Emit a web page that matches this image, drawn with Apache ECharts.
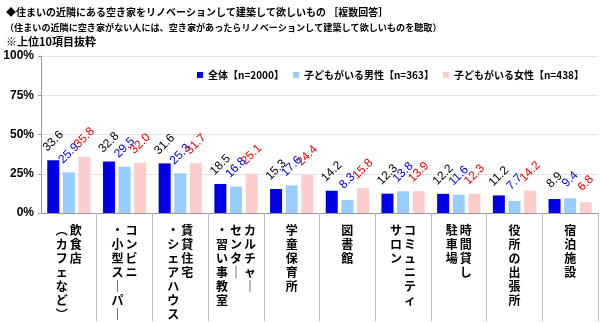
<!DOCTYPE html>
<html><head><meta charset="utf-8">
<script src="https://cdn.jsdelivr.net/npm/echarts@6/dist/echarts.min.js"></script>
<style>html,body{margin:0;padding:0;background:#fff}#c{width:600px;height:323px}</style>
</head><body><div id="c"></div>
<script>
// Category label columns (right column first, as read vertically)
const categoryColumns = [
  ['飲食店', '（カフェなど）'],
  ['コンビニ', '・小型スーパー'],
  ['賃貸住宅', '・シェアハウス'],
  ['カルチャー', 'センター', '・習い事教室'],
  ['学童保育所'],
  ['図書館'],
  ['コミュニティ', 'サロン'],
  ['時間貸し', '駐車場'],
  ['役所の出張所'],
  ['宿泊施設']
];
const categories = categoryColumns.map(c => c.join(''));
const seriesNames = ['全体【n=2000】', '子どもがいる男性【n=363】', '子どもがいる女性【n=438】'];
const allValues    = [33.6, 32.8, 31.6, 18.5, 15.3, 14.2, 12.3, 12.2, 11.2, 8.9];
const maleValues   = [25.9, 29.5, 25.3, 16.8, 17.6, 8.3, 13.8, 11.6, 7.7, 9.4];
const femaleValues = [35.8, 32.0, 31.7, 25.1, 24.4, 15.8, 13.9, 12.3, 14.2, 6.8];
const yTicks = [0, 25, 50, 75, 100];

const vmap = {'\u30FC': '\uFF5C', '\uFF08': '\uFE35', '\uFF09': '\uFE36'};
function verticalLabel(cols) {
  const n = Math.max(...cols.map(c => c.length));
  const rows = [];
  for (let r = 0; r < n; r++) {
    let s = '';
    for (let k = cols.length - 1; k >= 0; k--) {
      let ch = Array.from(cols[k])[r] || '\u3000';
      ch = vmap[ch] || ch;
      s += '{c|' + ch + '}';
    }
    rows.push(s);
  }
  return rows.join('\n');
}

const chart = echarts.init(document.getElementById('c'));
const jp = 'Noto Sans CJK JP';

function mkSeries(name, data, color, labelColor) {
  return {
    name, type: 'bar', data, barWidth: 12, barGap: '30%', itemStyle: {color},
    label: {
      show: true, position: 'top', distance: 19, rotate: 45,
      align: 'center', verticalAlign: 'middle',
      fontSize: 12, color: labelColor, fontFamily: 'Liberation Sans',
      formatter: p => p.value.toFixed(1)
    }
  };
}

chart.setOption({
  animation: false,
  title: [
    {text: '◆住まいの近隣にある空き家をリノベーションして建築して欲しいもの ［複数回答］', left: 1, top: 2,
     textStyle: {fontSize: 10, fontWeight: 'bold', fontFamily: jp, color: '#000'}},
    {text: '（住まいの近隣に空き家がない人には、空き家があったらリノベーションして建築して欲しいものを聴取）', left: 0, top: 18,
     textStyle: {fontSize: 9.1, fontWeight: 'bold', fontFamily: jp, color: '#000'}},
    {text: '※上位10項目抜粋', left: 1, top: 31,
     textStyle: {fontSize: 11, fontWeight: 'bold', fontFamily: jp, color: '#000'}}
  ],
  legend: {
    data: seriesNames, left: 192, top: 65, width: 420, itemWidth: 6, itemHeight: 6, itemGap: 9,
    icon: 'rect',
    textStyle: {fontSize: 10, fontWeight: 'bold', fontFamily: jp, color: '#000'}
  },
  grid: {left: 41, right: 2, top: 56, bottom: 110},
  xAxis: {
    type: 'category', data: categories,
    axisLine: {lineStyle: {color: '#999'}},
    axisTick: {show: true, length: 108, lineStyle: {color: '#bbb'}, interval: (i) => i !== 0},
    axisLabel: {
      interval: 0, margin: 10,
      formatter: (v, i) => verticalLabel(categoryColumns[i]),
      rich: {c: {width: 14, align: 'center', fontSize: 12, lineHeight: 14, fontWeight: 'bold', fontFamily: jp, color: '#000'}}
    }
  },
  yAxis: {
    type: 'value', min: yTicks[0], max: yTicks[yTicks.length - 1], interval: 25,
    axisLine: {show: true, lineStyle: {color: '#999'}},
    axisTick: {show: true, length: 3, lineStyle: {color: '#999'}},
    splitLine: {lineStyle: {color: '#e4e4e4'}},
    axisLabel: {formatter: '{value}%', fontSize: 12, fontWeight: 'bold', fontFamily: 'Liberation Sans', color: '#000', margin: 7}
  },
  series: [
    mkSeries(seriesNames[0], allValues, '#0000e6', '#000'),
    mkSeries(seriesNames[1], maleValues, '#99ccff', '#0000cc'),
    mkSeries(seriesNames[2], femaleValues, '#ffcccc', '#ee0000')
  ]
});
</script></body></html>
